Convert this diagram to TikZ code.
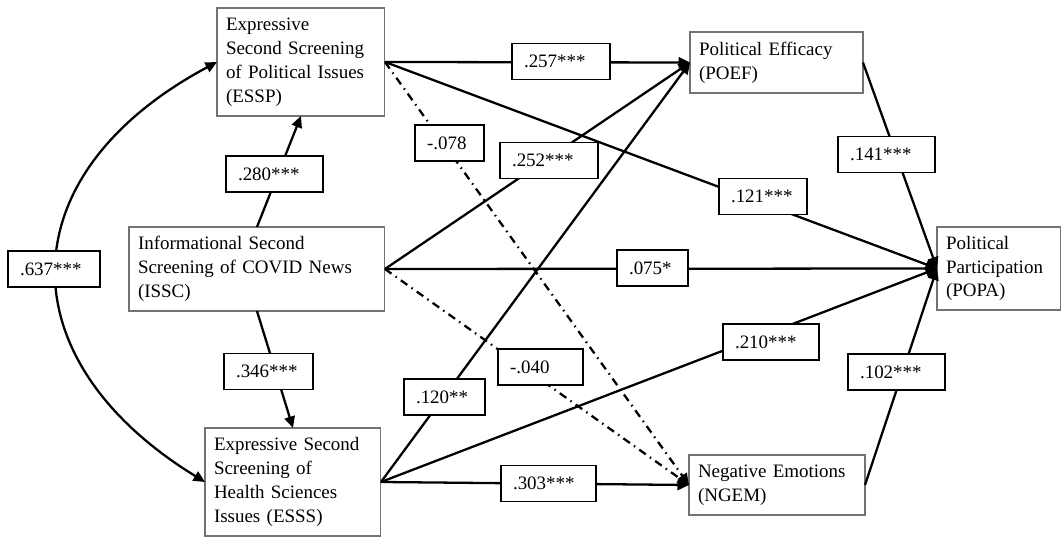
\documentclass[tikz,border=0pt]{standalone}
\usepackage{fontspec}
\setmainfont{Liberation Serif}
\usetikzlibrary{arrows.meta}

\begin{document}
\begin{tikzpicture}[x=0.02cm,y=-0.02cm,
    >={Triangle[length=2.3mm,width=2.1mm]},
    font=\fontsize{10.8}{13.6}\selectfont,
    var/.style={draw=black!55,line width=.6pt,anchor=north west,align=left,inner xsep=1.8mm,outer sep=0pt},
    coef/.style={draw,fill=white,line width=.8pt,align=left,inner xsep=2.4mm,minimum height=7.2mm},
    eff/.style={->,line width=1.3pt},
    ns/.style={->,line width=1.3pt,dash pattern=on 1.6mm off 1mm on .3mm off 1mm}]
  \useasboundingbox (0,0) rectangle (1061,537);
  % variables
  \node[var,text width=30mm,minimum height=21.6mm] (ESSP) at (217,8) {Expressive\\Second Screening\\of Political Issues\\(ESSP)};
  \node[var,text width=47.6mm,minimum height=16.8mm] (ISSC) at (129,227) {Informational Second\\Screening of COVID News\\(ISSC)};
  \node[var,text width=31.6mm,minimum height=21.6mm] (ESSS) at (205,428) {Expressive Second\\Screening of\\Health Sciences\\Issues (ESSS)};
  \node[var,text width=31mm,minimum height=12.2mm] (POEF) at (690,32) {Political Efficacy\\(POEF)};
  \node[var,text width=21.2mm,minimum height=16.6mm] (POPA) at (937,227) {Political\\Participation\\(POPA)};
  \node[var,text width=31.6mm,minimum height=12mm] (NGEM) at (689,455) {Negative Emotions\\(NGEM)};
  % paths
  \draw[eff] (ISSC.north) -- (ESSP.south);
  \draw[eff] (ISSC.south) -- (ESSS.north);
  \draw[eff,<->] (ESSS.west) .. controls (6,360) and (6,175) .. (ESSP.west);
  \draw[eff] (ESSP.east) -- (POEF.west);
  \draw[eff] (ESSP.east) -- (POPA.west);
  \draw[ns] (ESSP.east) -- (NGEM.west);
  \draw[eff] (ISSC.east) -- (POEF.west);
  \draw[eff] (ISSC.east) -- (POPA.west);
  \draw[ns] (ISSC.east) -- (NGEM.west);
  \draw[eff] (ESSS.east) -- (POEF.west);
  \draw[eff] (ESSS.east) -- (POPA.west);
  \draw[eff] (ESSS.east) -- (NGEM.west);
  \draw[eff] (POEF.east) -- (POPA.west);
  \draw[eff] (NGEM.east) -- (POPA.west);
  % coefficients
  \node[coef,text width=13.6mm] (c637) at (54,269) {.637***};
  \node[coef,text width=14.6mm] (c280) at (274.5,174) {.280***};
  \node[coef,text width=13mm] (c346) at (268.5,371.5) {.346***};
  \node[coef,text width=9mm] (c078) at (449.5,143) {-.078};
  \node[coef,text width=14.8mm] (c252) at (549,160.5) {.252***};
  \node[coef,text width=14.8mm] (c257) at (561,61.5) {.257***};
  \node[coef,text width=12.8mm] (c121) at (763,196.5) {.121***};
  \node[coef,text width=14.6mm] (c141) at (886.5,154.5) {.141***};
  \node[coef,text width=9.4mm] (c075) at (652.5,268) {.075*};
  \node[coef,text width=14.4mm] (c210) at (771,342) {.210***};
  \node[coef,text width=14.6mm] (c102) at (896.5,372) {.102***};
  \node[coef,text width=12.2mm] (c040) at (540.5,367) {-.040};
  \node[coef,text width=11.4mm] (c120) at (444.5,397) {.120**};
  \node[coef,text width=14.2mm] (c303) at (548.5,483.5) {.303***};
\end{tikzpicture}
\end{document}
